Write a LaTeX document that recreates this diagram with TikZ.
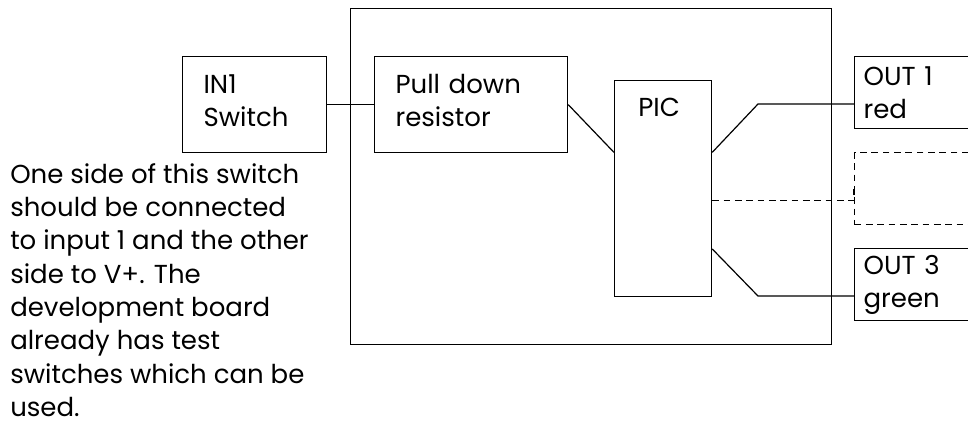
\documentclass[tikz,border=0pt]{standalone}
\usepackage{fontspec}
\setmainfont{Poppins}
\usetikzlibrary{positioning,calc}

\tikzset{
    box/.style={draw, line width=0.9pt, anchor=north west, inner ysep=0pt, align=left},
    wire/.style={line width=0.9pt},
}

\begin{document}
\begin{tikzpicture}[x=0.75pt,y=-0.75pt,font=\fontsize{19.5}{25}\selectfont]
            \useasboundingbox (0,0) rectangle (968,421);

            \node[box, minimum width=360.75pt, minimum height=252pt] (board) at (350,7.5) {};

            \node[box, minimum width=108pt, minimum height=72pt, text width=76.5pt, inner xsep=15.75pt, text depth=31pt] (sw) at (182,56) {IN1\\Switch};
            \node[box, minimum width=144.75pt, minimum height=72pt, text width=113.25pt, inner xsep=15.75pt, text depth=31pt] (pd) at (374,56) {Pull down\\resistor};
            \node[box, minimum width=72.75pt, minimum height=162pt,
                label={[anchor=north, inner sep=0pt, yshift=-13.5pt, xshift=-3pt]north:PIC}] (pic) at (614,80) {};

            \node[box, minimum width=105pt, minimum height=54pt, text width=91.5pt, inner xsep=6.75pt] (out1) at (854,56) {OUT 1\\red};
            \node[box, dash pattern=on 5pt off 3.5pt, minimum width=105pt, minimum height=54pt] (out2) at (854,152) {};
            \node[box, minimum width=105pt, minimum height=54pt, text width=91.5pt, inner xsep=6.75pt] (out3) at (854,248) {OUT 3\\green};

            \node[anchor=north west, inner sep=0pt, align=left] (note) at (10,163) {One side of this switch\\should be connected\\to input 1 and the other\\side to V+. The\\development board\\already has test\\switches which can be\\used.};

            \coordinate (k1) at (758,104);
            \coordinate (k3) at (758,296);

            \draw[wire] (sw.east) -- (pd.west);
            \draw[wire] (pd.east) -- ($(pic.north west)!1/3!(pic.south west)$);
            \draw[wire] ($(pic.north east)!1/3!(pic.south east)$) -- (k1) -- (k1 -| out1.west);
            \draw[wire, dash pattern=on 5pt off 3.5pt] ($(pic.north east)!5/9!(pic.south east)$) -- ++(100,0) -| (out2.west);
            \draw[wire] ($(pic.north east)!7/9!(pic.south east)$) -- (k3) -- (k3 -| out3.west);
        \end{tikzpicture}
\end{document}
